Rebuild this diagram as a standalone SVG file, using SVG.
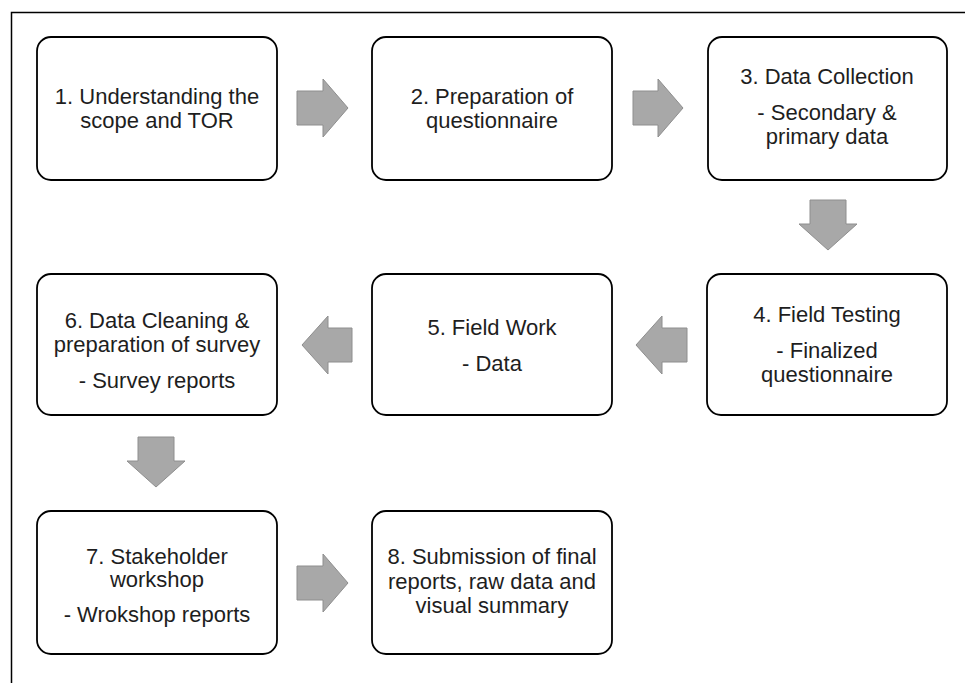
<svg xmlns="http://www.w3.org/2000/svg" width="965" height="683" viewBox="0 0 965 683">
<style>
.box{fill:#ffffff;stroke:#000000;stroke-width:1.8}
.t{font-family:"Liberation Sans",Arial,sans-serif;font-size:22px;fill:#1e1e1e;text-anchor:middle}
.arr{fill:#a8a8a8;stroke:#8e8e8e;stroke-width:1}
.frame{fill:none;stroke:#000000;stroke-width:1.5}
</style>
<rect width="965" height="683" fill="#ffffff"/>
<path class="frame" d="M11.5,683 V12.5 H965"/>
<g id="connectors">
<polygon class="arr" points="297,91 323,91 323,79 348,108 323,137 323,125 297,125"/>
<polygon class="arr" points="633,91 658,91 658,79 683,108 658,137 658,125 633,125"/>
<polygon class="arr" points="810,200 846,200 846,224 857,224 828,250 799,224 810,224"/>
<polygon class="arr" points="636,345 662,316 662,328 687,328 687,362 662,362 662,374"/>
<polygon class="arr" points="302,345 328,316 328,328 352,328 352,362 328,362 328,374"/>
<polygon class="arr" points="138,437 174,437 174,461 185,461 156,487 127,461 138,461"/>
<polygon class="arr" points="297,566 323,566 323,554 348,583 323,612 323,600 297,600"/>
</g>
<g id="node1">
<rect class="box" x="37" y="37" width="240" height="143" rx="14"/>
<text class="t" x="157" y="104">1. Understanding the</text>
<text class="t" x="157" y="128">scope and TOR</text>
</g>
<g id="node2">
<rect class="box" x="372" y="37" width="240" height="143" rx="14"/>
<text class="t" x="492" y="104">2. Preparation of</text>
<text class="t" x="492" y="128">questionnaire</text>
</g>
<g id="node3">
<rect class="box" x="708" y="37" width="239" height="143" rx="14"/>
<text class="t" x="827" y="84">3. Data Collection</text>
<text class="t" x="827" y="120">- Secondary &amp;</text>
<text class="t" x="827" y="144">primary data</text>
</g>
<g id="node4">
<rect class="box" x="707" y="274" width="240" height="141" rx="14"/>
<text class="t" x="827" y="322">4. Field Testing</text>
<text class="t" x="827" y="358">- Finalized</text>
<text class="t" x="827" y="382">questionnaire</text>
</g>
<g id="node5">
<rect class="box" x="372" y="274" width="240" height="141" rx="14"/>
<text class="t" x="492" y="335">5. Field Work</text>
<text class="t" x="492" y="371">- Data</text>
</g>
<g id="node6">
<rect class="box" x="37" y="274" width="240" height="141" rx="14"/>
<text class="t" x="157" y="328">6. Data Cleaning &amp;</text>
<text class="t" x="157" y="352">preparation of survey</text>
<text class="t" x="157" y="388">- Survey reports</text>
</g>
<g id="node7">
<rect class="box" x="37" y="511" width="240" height="143" rx="14"/>
<text class="t" x="157" y="564">7. Stakeholder</text>
<text class="t" x="157" y="587">workshop</text>
<text class="t" x="157" y="622">- Wrokshop reports</text>
</g>
<g id="node8">
<rect class="box" x="372" y="511" width="240" height="143" rx="14"/>
<text class="t" x="492" y="564">8. Submission of final</text>
<text class="t" x="492" y="589">reports, raw data and</text>
<text class="t" x="492" y="613">visual summary</text>
</g>
</svg>
